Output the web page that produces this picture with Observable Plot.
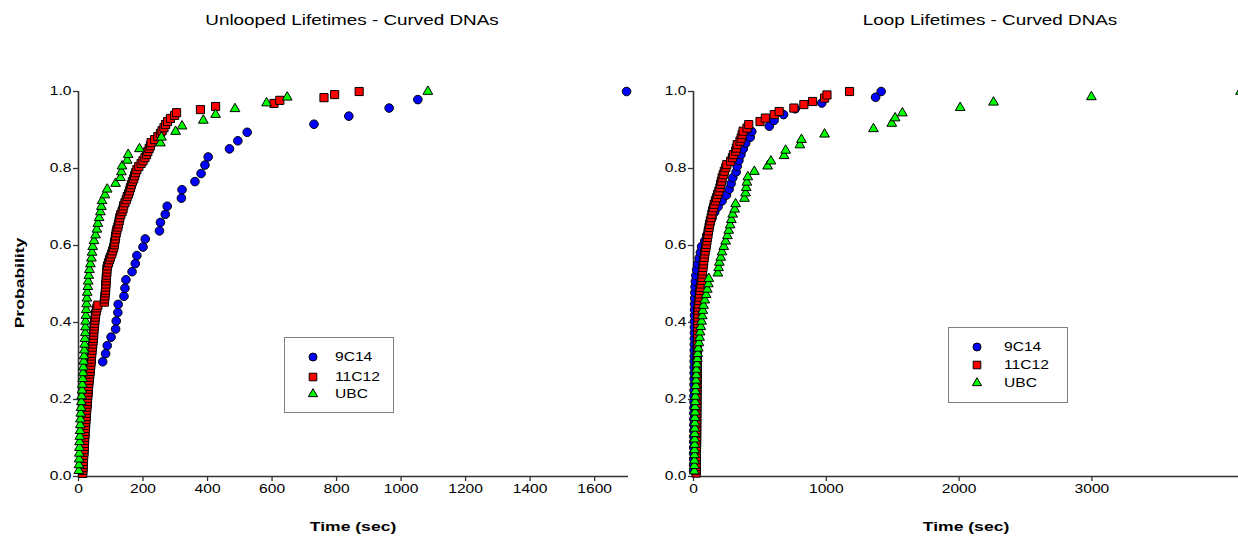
<!DOCTYPE html>
<html><head><meta charset="utf-8">
<script src="https://cdn.jsdelivr.net/npm/d3@7"></script>
<script src="https://cdn.jsdelivr.net/npm/@observablehq/plot@0.6"></script>
<style>
html,body{margin:0;padding:0;background:#fff;}
body{width:1238px;height:539px;overflow:hidden;position:relative;font-family:"Liberation Sans",Arial,sans-serif;color:#000;}
.panel{position:absolute;top:0;}
.panel svg{max-width:none !important;}
.txt{position:absolute;white-space:nowrap;line-height:1;}
.title{font-size:14.5px;transform:translate(-50%,-50%) scaleX(1.3);}
.xlab{font-size:13.5px;font-weight:bold;transform:translate(-50%,-50%) scaleX(1.3);}
.ylab{font-size:13.5px;font-weight:bold;transform:translate(-50%,-50%) rotate(-90deg) scaleX(1.3);}
.legend{position:absolute;border:1px solid #808080;background:#fff;box-sizing:border-box;}
.lrow{position:absolute;left:0;height:14px;}
.lrow svg{position:absolute;top:0;}
.lrow span{position:absolute;top:0;font-size:12px;line-height:14px;transform:scaleX(1.3);transform-origin:0 50%;white-space:nowrap;}
</style></head><body>
<div id="left" class="panel" style="left:0px;width:640px"></div>
<div id="right" class="panel" style="left:640px;width:606px"></div>
<script>
// ---- categories / labels ----
const seriesNames = ["9C14", "11C12", "UBC"];
const seriesColors = ["#0000ff", "#ff0000", "#00ff00"];
const titles = ["Unlooped Lifetimes - Curved DNAs", "Loop Lifetimes - Curved DNAs"];
const xTicksLeft = [0, 200, 400, 600, 800, 1000, 1200, 1400, 1600];
const xTicksRight = [0, 1000, 2000, 3000];
const yTicks = [0, 0.2, 0.4, 0.6, 0.8, 1.0];

// ---- Unlooped (left) ----
const unloopedTime9C14 = [12,14,16,17,19,20,22,24,26,28,30,33,36,75,84,89,101,115,117,122,123,141,144,147,166,176,181,200,207,251,254,269,275,319,321,361,380,392,402,468,494,523,730,838,963,1052,1699];
const unloopedProb9C14 = [0.021,0.043,0.064,0.085,0.106,0.128,0.149,0.170,0.191,0.213,0.234,0.255,0.277,0.298,0.319,0.340,0.362,0.383,0.404,0.426,0.447,0.468,0.489,0.511,0.532,0.553,0.574,0.596,0.617,0.638,0.660,0.681,0.702,0.723,0.745,0.766,0.787,0.809,0.830,0.851,0.872,0.894,0.915,0.936,0.957,0.979,1.000];

const unloopedTime11C12 = [13,13.5,14,14.5,15,15.5,16,17,17,18,
18,19,19,20,20,21,22,22,23,24,
24,25,26,27,27,28,29,30,30,31,
32,33,34,35,36,37,38,39,40,40,
41,42,43,44,45,46,47,47,48,49,
50,51,52,53,55,57,60,80,81,82,
83,84,84,85,86,86,87,88,88,90,
93,96,99,103,106,109,111,112,114,115,
117,119,122,124,126,128,131,135,138,140,
144,148,151,155,158,161,164,167,171,174,
177,181,187,194,200,206,211,215,219,223,
225,236,246,254,259,265,270,276,285,298,
304,378,425,606,624,761,794,870];
const unloopedProb11C12 = [0.008,0.016,0.023,0.031,0.039,0.047,0.055,0.063,0.070,0.078,
0.086,0.094,0.102,0.109,0.117,0.125,0.133,0.141,0.148,0.156,
0.164,0.172,0.180,0.188,0.195,0.203,0.211,0.219,0.227,0.234,
0.242,0.250,0.258,0.266,0.273,0.281,0.289,0.297,0.305,0.313,
0.320,0.328,0.336,0.344,0.352,0.359,0.367,0.375,0.383,0.391,
0.398,0.406,0.414,0.422,0.430,0.438,0.445,0.453,0.461,0.469,
0.477,0.484,0.492,0.500,0.508,0.516,0.523,0.531,0.539,0.547,
0.555,0.563,0.570,0.578,0.586,0.594,0.602,0.609,0.617,0.625,
0.633,0.641,0.648,0.656,0.664,0.672,0.680,0.688,0.695,0.703,
0.711,0.719,0.727,0.734,0.742,0.750,0.758,0.766,0.773,0.781,
0.789,0.797,0.805,0.813,0.820,0.828,0.836,0.844,0.852,0.859,
0.867,0.875,0.883,0.891,0.898,0.906,0.914,0.922,0.930,0.938,
0.945,0.953,0.961,0.969,0.977,0.984,0.992,1.000];

const unloopedTimeUBC = [1,1.5,2,2.5,3,3.5,4,5,5.5,6,
7,8,9,10,11,12,13,14,15,16,
17,18,19,20,21,21.5,22,23,24,25,
26,27,29,30,32,34,37,40,42,44,
48,53,57,60,64,68,71,73,82,89,
115,130,133,135,151,154,189,254,257,301,
321,387,425,485,583,647,1083];
const unloopedProbUBC = [0.015,0.030,0.045,0.060,0.075,0.090,0.104,0.119,0.134,0.149,
0.164,0.179,0.194,0.209,0.224,0.239,0.254,0.269,0.284,0.299,
0.313,0.328,0.343,0.358,0.373,0.388,0.403,0.418,0.433,0.448,
0.463,0.478,0.493,0.507,0.522,0.537,0.552,0.567,0.582,0.597,
0.612,0.627,0.642,0.657,0.672,0.687,0.701,0.716,0.731,0.746,
0.761,0.776,0.791,0.806,0.821,0.836,0.851,0.866,0.881,0.896,
0.910,0.925,0.940,0.955,0.970,0.985,1.000];

// ---- Loop (right) ----
const loopTime9C14 = [1,1,1.5,1.5,2,2,2.5,2.5,3,3,
3.5,3.5,4,4,4.5,4.5,5,5,5.5,5.5,
6,6,6.5,6.5,7,7,7.5,7.5,8,8,
9,10,12,14,18,24,32,42,52,61,
85,100,112,125,140,160,185,215,248,268,
283,296,321,329,342,357,375,393,427,439,
571,607,678,766,966,1371,1413];
const loopProb9C14 = [0.015,0.030,0.045,0.060,0.075,0.090,0.104,0.119,0.134,0.149,
0.164,0.179,0.194,0.209,0.224,0.239,0.254,0.269,0.284,0.299,
0.313,0.328,0.343,0.358,0.373,0.388,0.403,0.418,0.433,0.448,
0.463,0.478,0.493,0.507,0.522,0.537,0.552,0.567,0.582,0.597,
0.612,0.627,0.642,0.657,0.672,0.687,0.701,0.716,0.731,0.746,
0.761,0.776,0.791,0.806,0.821,0.836,0.851,0.866,0.881,0.896,
0.910,0.925,0.940,0.955,0.970,0.985,1.000];

const loopTime11C12 = [20,20.3,20.6,21,21.3,21.6,22,22.3,22.6,23,
23.2,23.4,23.6,23.8,24,24.2,24.4,24.6,24.8,25,
25.2,25.4,25.6,25.8,26,26.2,26.4,26.6,26.8,27,
27.2,27.4,27.6,27.8,28,28.3,28.6,29,29.3,29.6,
30,30.3,30.6,31,31.3,31.6,32,32.5,33,34,
35,38,41,43,46,48,52,56,61,63,
65,68,71,74,77,81,84,88,93,97,
101,105,109,113,117,121,127,133,138,144,
150,156,165,173,182,191,199,204,210,216,
224,232,243,251,280,293,301,318,323,329,
350,359,366,374,403,416,501,541,608,645,
756,831,897,987,1005,1175];
const loopProb11C12 = [0.009,0.017,0.026,0.034,0.043,0.052,0.060,0.069,0.078,0.086,
0.095,0.103,0.112,0.121,0.129,0.138,0.147,0.155,0.164,0.172,
0.181,0.190,0.198,0.207,0.216,0.224,0.233,0.241,0.250,0.259,
0.267,0.276,0.284,0.293,0.302,0.310,0.319,0.328,0.336,0.345,
0.353,0.362,0.371,0.379,0.388,0.397,0.405,0.414,0.422,0.431,
0.440,0.448,0.457,0.466,0.474,0.483,0.491,0.500,0.509,0.517,
0.526,0.534,0.543,0.552,0.560,0.569,0.578,0.586,0.595,0.603,
0.612,0.621,0.629,0.638,0.647,0.655,0.664,0.672,0.681,0.690,
0.698,0.707,0.716,0.724,0.733,0.741,0.750,0.759,0.767,0.776,
0.784,0.793,0.802,0.810,0.819,0.828,0.836,0.845,0.853,0.862,
0.871,0.879,0.888,0.897,0.905,0.914,0.922,0.931,0.940,0.948,
0.957,0.966,0.974,0.983,0.991,1.000];

const loopTimeUBC = [6,6.5,7,7.5,8,8.5,9,9.5,10,10.5,
11,11.5,12,13,14,15,17,19,21,23,
26,29,32,36,41,46,50,55,61,66,
70,75,85,95,104,112,115,183,189,195,
205,215,228,242,255,265,276,285,295,310,
317,384,392,397,402,409,458,558,583,682,
694,801,813,987,1355,1493,1518,1573,2008,2259,
2996,4119];
const loopProbUBC = [0.014,0.028,0.042,0.056,0.069,0.083,0.097,0.111,0.125,0.139,
0.153,0.167,0.181,0.194,0.208,0.222,0.236,0.250,0.264,0.278,
0.292,0.306,0.319,0.333,0.347,0.361,0.375,0.389,0.403,0.417,
0.431,0.444,0.458,0.472,0.486,0.500,0.514,0.528,0.542,0.556,
0.569,0.583,0.597,0.611,0.625,0.639,0.653,0.667,0.681,0.694,
0.708,0.722,0.736,0.750,0.764,0.778,0.792,0.806,0.819,0.833,
0.847,0.861,0.875,0.889,0.903,0.917,0.931,0.944,0.958,0.972,
0.986,1.000];

const STRETCH = 1.3;
const toRows = (ts, ps) => ts.map((t, i) => ({t, p: ps[i]}));

function panel({blue, red, green, xDomain, xTicks, width, marginLeft, marginRight}) {
  const svg = Plot.plot({
    width, height: 539,
    marginLeft, marginRight, marginTop: 91, marginBottom: 63,
    style: {fontFamily: "'Liberation Sans', Arial, sans-serif", fontSize: "12px", color: "#000", background: "transparent", overflow: "visible", maxWidth: "none"},
    x: {domain: xDomain},
    y: {domain: [0, 1]},
    marks: [
      Plot.axisX({ticks: xTicks, tickSize: 5, tickPadding: 3, label: null, tickFormat: d => String(d), stroke: "#333", strokeWidth: 1.3}),
      Plot.axisY({ticks: yTicks, tickSize: 5, tickPadding: 2, label: null, tickFormat: d => d.toFixed(1), stroke: "#333", strokeWidth: 1.3}),
      Plot.ruleX([0], {stroke: "#333", strokeWidth: 1.6}),
      Plot.ruleY([0], {stroke: "#333", strokeWidth: 1.6}),
      Plot.dot(blue, {x: "t", y: "p", r: 4.3, fill: seriesColors[0], stroke: "#000", strokeWidth: 1}),
      Plot.dot(red, {x: "t", y: "p", symbol: "square", r: 4.6, fill: seriesColors[1], stroke: "#000", strokeWidth: 1}),
      Plot.dot(green, {x: "t", y: "p", symbol: "triangle", r: 3.6, fill: seriesColors[2], stroke: "#000", strokeWidth: 1})
    ]
  });
  svg.style.maxWidth = "none";
  svg.querySelectorAll("text").forEach(t => {
    const tr = t.getAttribute("transform") || "";
    t.setAttribute("transform", tr + ` scale(${STRETCH},1)`);
  });
  return svg;
}

document.getElementById("left").appendChild(panel({
  blue: toRows(unloopedTime9C14, unloopedProb9C14),
  red: toRows(unloopedTime11C12, unloopedProb11C12),
  green: toRows(unloopedTimeUBC, unloopedProbUBC),
  xDomain: [0, 1705], xTicks: xTicksLeft, width: 640, marginLeft: 78, marginRight: 12
}));
document.getElementById("right").appendChild(panel({
  blue: toRows(loopTime9C14, loopProb9C14),
  red: toRows(loopTime11C12, loopProb11C12),
  green: toRows(loopTimeUBC, loopProbUBC),
  xDomain: [0, 4164], xTicks: xTicksRight, width: 606, marginLeft: 53, marginRight: 0
}));

// ---- text: titles and axis labels ----
function addText(cls, text, x, y) {
  const d = document.createElement("div");
  d.className = "txt " + cls;
  d.textContent = text;
  d.style.left = x + "px"; d.style.top = y + "px";
  document.body.appendChild(d);
}
addText("title", titles[0], 352, 20);
addText("title", titles[1], 990, 20);
addText("xlab", "Time (sec)", 353, 527);
addText("xlab", "Time (sec)", 966, 527);
addText("ylab", "Probability", 20, 283);

// ---- legends ----
function symbolPath(i) {
  const types = [d3.symbolCircle, d3.symbolSquare, d3.symbolTriangle];
  const sizes = [Math.PI * 4 * 4, Math.PI * 4.3 * 4.3, Math.PI * 3.4 * 3.4];
  return d3.symbol(types[i], sizes[i])();
}
function addLegend(left, top, w, h, rowYs, symX, textX) {
  const box = document.createElement("div");
  box.className = "legend";
  Object.assign(box.style, {left: left + "px", top: top + "px", width: w + "px", height: h + "px"});
  seriesNames.forEach((name, i) => {
    const row = document.createElement("div");
    row.className = "lrow";
    row.style.top = (rowYs[i] - 7) + "px";
    row.style.width = w + "px";
    row.innerHTML = `<svg width="14" height="14" style="left:${symX - 7}px" viewBox="-7 -7 14 14"><path d="${symbolPath(i)}" fill="${seriesColors[i]}" stroke="#000" stroke-width="1"/></svg><span style="left:${textX}px">${name}</span>`;
    box.appendChild(row);
  });
  document.body.appendChild(box);
}
addLegend(284, 337, 110, 76, [19, 38.5, 56], 27.5, 50);
addLegend(948, 327, 120, 76, [18.5, 37, 54.5], 28, 54.5);
</script></body></html>
